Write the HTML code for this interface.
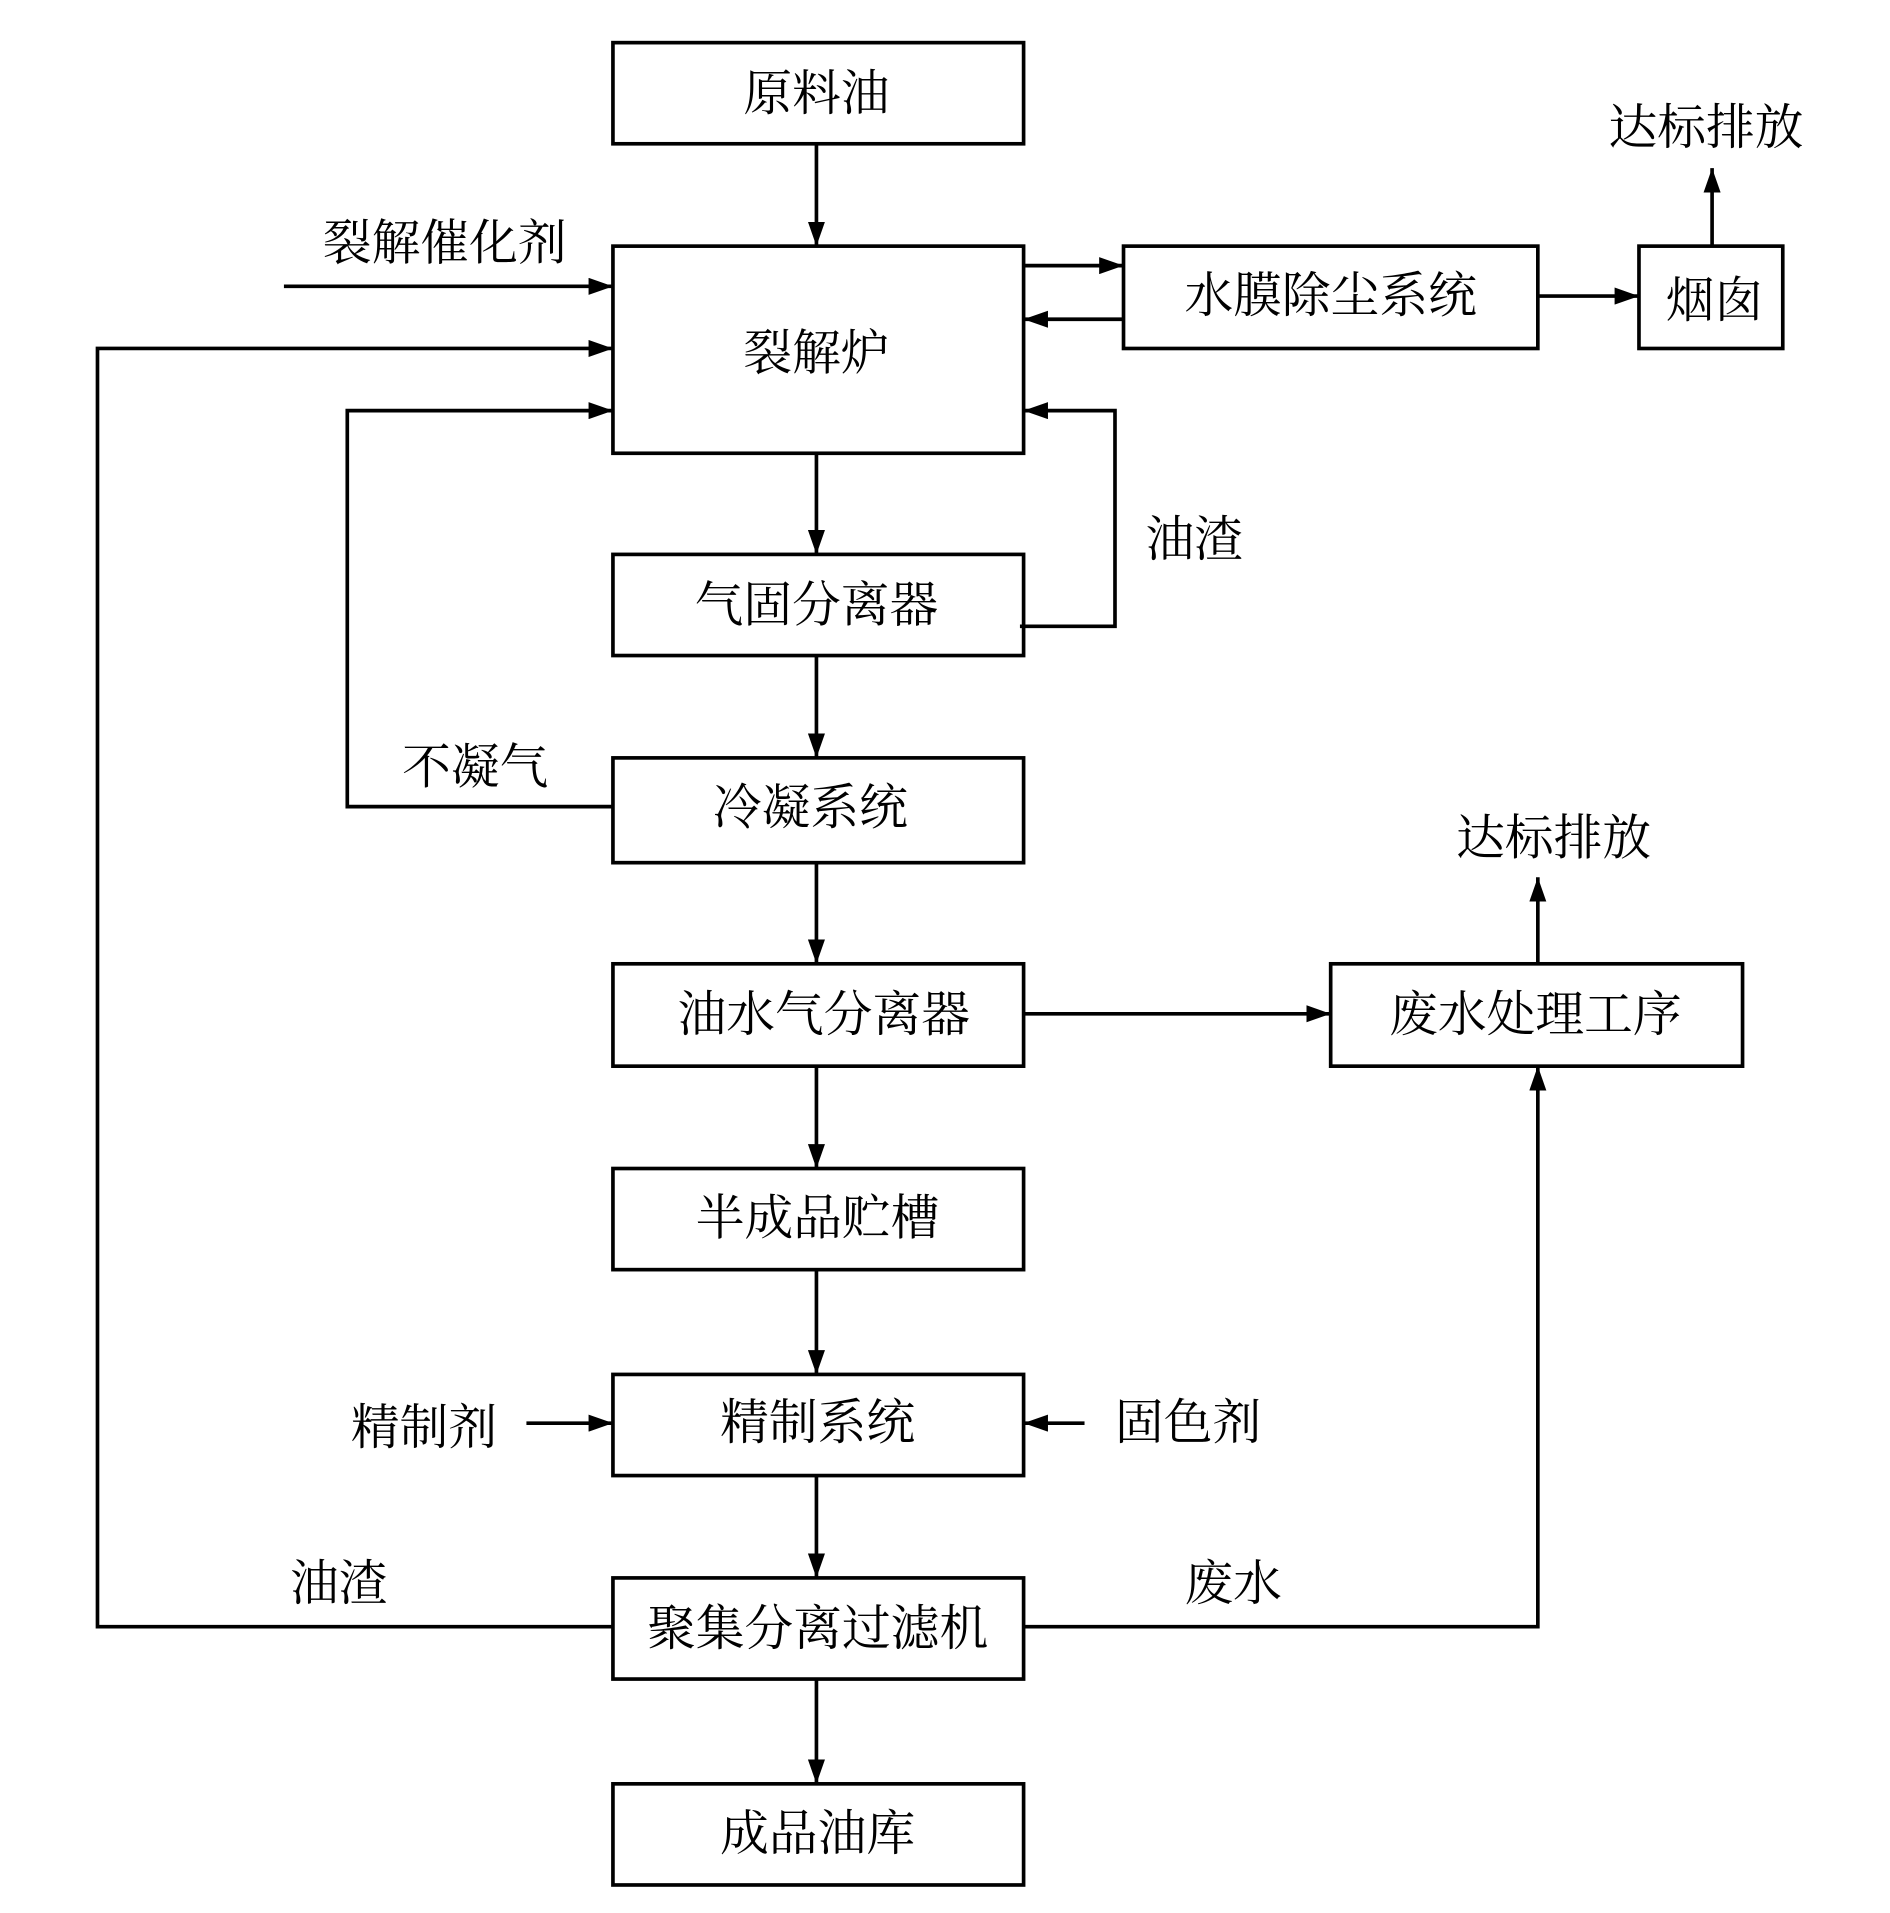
<!DOCTYPE html>
<html><head><meta charset="utf-8"><style>
html,body{margin:0;padding:0;background:#fff;}
svg{display:block;}
text{font-family:"Liberation Serif","Noto Serif CJK SC",serif;font-size:40px;fill:#000;text-anchor:middle;dominant-baseline:central;}
</style></head><body>
<svg width="1890" height="1913" viewBox="0 0 1551 1570" preserveAspectRatio="none" xmlns="http://www.w3.org/2000/svg">
<defs><marker id="a" markerWidth="10" markerHeight="8" refX="9" refY="4" orient="auto" markerUnits="userSpaceOnUse"><path d="M0,0 L0,0 L10,4 L0,8 Z" transform="scale(2.2) translate(-5.5,-2)" fill="#000"/></marker>
<marker id="b" viewBox="0 0 20 14" markerWidth="20" markerHeight="14" refX="20" refY="7" orient="auto" markerUnits="userSpaceOnUse"><path d="M0,0 L20,7 L0,14 Z" fill="#000"/></marker></defs>
<g fill="none" stroke="#000" stroke-width="3">
<rect x="503" y="35" width="337" height="83"/>
<rect x="503" y="202" width="337" height="170"/>
<rect x="503" y="455" width="337" height="83"/>
<rect x="503" y="622" width="337" height="86"/>
<rect x="503" y="791" width="337" height="84"/>
<rect x="503" y="959" width="337" height="83"/>
<rect x="503" y="1128" width="337" height="83"/>
<rect x="503" y="1295" width="337" height="83"/>
<rect x="503" y="1464" width="337" height="83"/>
<rect x="922" y="202" width="340" height="84"/>
<rect x="1345" y="202" width="118" height="84"/>
<rect x="1092" y="791" width="338" height="84"/>
<g marker-end="url(#b)">
<line x1="670" y1="118" x2="670" y2="202"/>
<line x1="670" y1="372" x2="670" y2="455"/>
<line x1="670" y1="538" x2="670" y2="622"/>
<line x1="670" y1="708" x2="670" y2="791"/>
<line x1="670" y1="875" x2="670" y2="959"/>
<line x1="670" y1="1042" x2="670" y2="1128"/>
<line x1="670" y1="1211" x2="670" y2="1295"/>
<line x1="670" y1="1378" x2="670" y2="1464"/>
<line x1="233" y1="235" x2="503" y2="235"/>
<polyline points="503,1335 80,1335 80,286 503,286"/>
<polyline points="503,662 285,662 285,337 503,337"/>
<polyline points="837,514 915,514 915,337 840,337"/>
<line x1="840" y1="218" x2="922" y2="218"/>
<line x1="922" y1="262" x2="840" y2="262"/>
<line x1="1262" y1="243" x2="1345" y2="243"/>
<line x1="1405" y1="202" x2="1405" y2="138"/>
<line x1="840" y1="832" x2="1092" y2="832"/>
<line x1="1262" y1="791" x2="1262" y2="720"/>
<polyline points="840,1335 1262,1335 1262,875"/>
<line x1="432" y1="1168" x2="503" y2="1168"/>
<line x1="890" y1="1168" x2="840" y2="1168"/>
</g></g>
<text x="670" y="77">原料油</text>
<text x="670" y="290">裂解炉</text>
<text x="670" y="497">气固分离器</text>
<text x="665" y="663">冷凝系统</text>
<text x="676" y="833">油水气分离器</text>
<text x="671" y="1000">半成品贮槽</text>
<text x="671" y="1168">精制系统</text>
<text x="671" y="1337">聚集分离过滤机</text>
<text x="671" y="1505">成品油库</text>
<text x="1092" y="243">水膜除尘系统</text>
<text x="1407" y="247">烟囱</text>
<text x="1260" y="833">废水处理工序</text>
<text x="1400" y="105">达标排放</text>
<text x="1275" y="688">达标排放</text>
<text x="365" y="200">裂解催化剂</text>
<text x="390" y="630">不凝气</text>
<text x="980" y="443">油渣</text>
<text x="278" y="1300">油渣</text>
<text x="1012" y="1300">废水</text>
<text x="348" y="1172">精制剂</text>
<text x="975" y="1168">固色剂</text>
</svg>
</body></html>
